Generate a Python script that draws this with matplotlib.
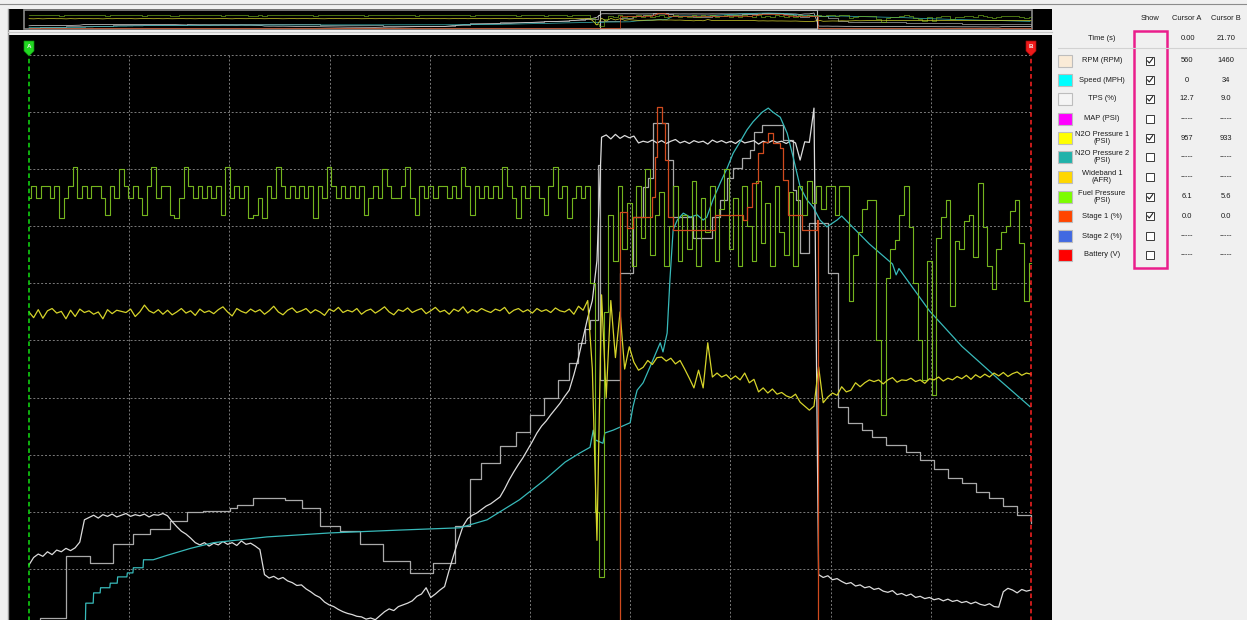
import numpy as np
import matplotlib.pyplot as plt
from matplotlib.patches import Rectangle, Polygon

W, H = 1247, 620
DT = 0.1
T_A, T_B = 0.0, 21.70

# all traces are in % of the graph height (10 % per grid row), time in s

# evenly logged channels, one value every 0.1 s from cursor A
fuel_psi = [
    75, 77, 75, 77, 77, 75, 77, 71.5, 75, 77,
    80.4, 75, 77, 75, 77, 77, 75, 72, 77, 75,
    80, 77, 75, 77, 75, 72, 77, 80.4, 75, 77,
    77, 72, 71.5, 75, 80.4, 77, 75, 77, 75, 77,
    75, 77, 72, 80.4, 75, 77, 75, 77, 71.5, 72,
    75, 71.5, 77, 75, 80.4, 77, 75, 77, 75, 77,
    75, 77, 71.5, 77, 75, 80.4, 77, 75, 77, 75,
    77, 75, 77, 72, 75, 77, 75, 80, 77, 75,
    75, 77, 80.4, 75, 72, 77, 75, 77, 75, 77,
    77, 75, 77, 75, 80.4, 77, 72, 77, 75, 77,
    75, 77, 75, 80.4, 77, 75, 71.5, 77, 75, 77,
    77, 75, 72, 77, 80.4, 75, 77, 71.5, 75, 77,
    75, 77, 60, 20, 8.6, 55, 72, 64, 77, 66,
    74, 63, 77, 68, 80, 65, 72, 76, 63, 70,
    77, 64, 72, 66, 78, 63, 75, 69, 77, 64,
    73, 80, 66, 75, 63, 77, 70, 64, 78, 67,
    74, 63, 77, 69, 65, 76, 63, 77, 72, 78,
    74, 77, 73, 77, 77, 72, 77, 77, 57, 65,
    69, 73, 74.6, 74.6, 50, 37, 61, 66, 67.6, 72,
    77, 69.8, 60, 50, 43.1, 64, 40.5, 68, 71.6, 74.6,
    56, 67.4, 66, 71, 72, 64.6, 77.6, 69.8, 63, 59,
    66, 69, 70, 72.6, 74.6, 67.1, 57, 63.6,
]

n2o_psi = [
    55.0, 54.0, 55.4, 53.9, 55.2, 55.6, 54.8, 55.1, 53.8, 55.3,
    54.2, 55.5, 54.9, 55.2, 54.6, 55.0, 53.8, 55.4, 54.7, 55.3,
    55.1, 54.9, 55.5, 54.2, 55.0, 56.2, 55.2, 54.8, 55.4, 54.6,
    55.3, 54.5, 55.0, 55.6, 54.8, 55.2, 54.4, 55.5, 54.9, 55.2,
    54.7, 55.4, 55.9, 55.0, 54.3, 55.6, 55.1, 54.8, 55.5, 55.0,
    55.4, 54.6, 55.2, 56.0, 55.0, 54.5, 55.3, 55.7, 54.9, 55.2,
    55.6, 54.8, 55.4, 55.0, 54.4, 55.5, 55.1, 55.8, 54.9, 55.3,
    55.0, 55.6, 54.6, 55.2, 55.5, 54.8, 55.3, 55.9, 55.0, 54.5,
    55.4, 55.1, 55.7, 54.9, 55.3, 55.6, 54.7, 55.2, 55.8, 55.0,
    55.3, 54.6, 55.5, 55.1, 55.9, 54.8, 55.4, 55.0, 55.6, 55.2,
    54.9, 55.5, 55.2, 55.8, 54.7, 55.3, 55.6, 55.0, 55.4, 54.8,
    55.6, 55.1, 55.4, 54.9, 55.7, 55.2, 55.0, 55.5, 54.6, 56.0,
    55.3, 57.0, 45.0, 15.0, 58.0, 40.0, 57.0, 47.0, 55.0, 45.0,
    48.9, 46.2, 44.8, 45.3, 46.5, 45.8, 47.0, 47.1, 46.4, 46.9,
    45.9, 46.5, 45.0, 43.4, 41.7, 44.8, 41.7, 49.6, 43.6, 44.3,
    43.6, 44.0, 43.2, 43.8, 43.1, 44.3, 42.6, 43.2, 41.0, 41.7,
    40.8, 41.5, 40.6, 40.9, 40.3, 40.0, 40.6, 39.2, 38.5, 37.8,
    38.5, 45.4, 39.1, 40.1, 40.8, 40.4, 41.9, 41.0, 41.3, 42.6,
    41.9, 42.6, 43.1, 42.8, 43.1, 42.4, 43.1, 43.5, 42.7, 43.1,
    43.0, 43.4, 42.8, 43.1, 42.5, 43.3, 43.1, 43.6, 42.9, 43.4,
    43.1, 43.7, 43.3, 43.9, 43.2, 44.0, 43.5, 44.1, 43.6, 44.3,
    43.8, 44.4, 43.7, 44.2, 44.5, 43.9, 44.3, 44.1,
]

tps_pct = [
    10.7, 12.0, 12.6, 12.2, 13.0, 12.5, 13.3, 13.0, 13.6, 13.2,
    13.7, 14.7, 18.6, 19.0, 19.4, 18.9, 19.5, 19.2, 19.6, 19.1,
    19.4, 19.7, 19.2, 19.5, 19.3, 19.6, 19.1, 19.5, 19.4, 19.7,
    19.3, 18.3, 17.4, 16.6, 16.1, 15.4, 14.6, 14.2, 14.6, 14.0,
    14.5, 14.2, 14.8, 14.3, 14.6, 14.1, 14.9, 14.3, 14.5, 14.0,
    13.4, 9.0, 8.4, 8.7, 8.2, 8.5, 7.9, 7.6, 7.1, 7.2,
    6.5, 6.0, 5.4, 5.0, 4.2, 3.7, 3.4, 2.9, 2.5, 2.2,
    2.0, 1.7, 1.6, 1.2, 1.4, 1.1, 1.8, 2.5, 3.0, 2.7,
    3.4, 3.7, 4.0, 4.4, 5.2, 5.6, 6.7, 5.0, 5.6, 6.3,
    6.9, 9.8, 12.5, 15.1, 17.5, 18.8, 19.4, 19.8, 20.4, 21.0,
    21.4, 22.0, 22.6, 24.0, 25.6, 27.0, 28.3, 29.5, 30.9, 32.3,
    33.8, 35.0, 35.9, 37.0, 38.0, 39.0, 40.2, 41.3, 44.0, 47.0,
    50.5, 54.0, 57.0, 64.0, 85.6, 86.0, 85.3, 86.1, 85.4, 85.9,
    85.5, 85.8, 84.6, 84.9, 84.7, 85.1, 84.6, 85.0, 84.5, 84.9,
    85.2, 84.6, 84.9, 84.5, 85.0, 84.7, 84.9, 84.4, 85.1, 84.7,
    85.0, 84.6, 84.9, 84.5, 85.1, 84.6, 84.8, 85.0, 84.4, 84.9,
    84.6, 85.0, 84.7, 84.9, 84.5, 85.0, 84.6, 81.6, 84.8, 84.7,
    90.7, 9.0, 8.5, 8.8, 8.1, 8.3, 7.8, 7.4, 7.6, 7.0,
    7.2, 6.7, 6.9, 6.4, 6.6, 6.1, 5.9, 6.2, 5.5, 5.7,
    5.3, 5.6, 5.0, 5.2, 4.8, 5.0, 4.6, 4.8, 4.4, 4.7,
    4.3, 4.5, 4.1, 4.3, 3.9, 4.2, 3.8, 3.6, 3.9, 3.4,
    3.3, 6.0, 6.6, 6.3, 5.8, 6.4, 6.1, 6.3,
]

# channels logged on change: (time, value) pairs
rpm_t = [0.0, 0.24, 0.80, 1.32, 1.82, 2.25, 2.62, 3.05, 3.42, 3.77, 4.35, 4.50,
         4.85, 5.54, 5.91, 6.30, 6.73, 7.16, 7.66, 8.25, 8.74, 9.22, 9.55, 9.78,
         10.19, 10.55, 10.84, 11.15, 11.45, 11.70, 11.90, 12.05, 12.14, 12.33,
         12.36, 12.80, 13.08, 13.29, 13.40, 13.51, 13.83, 13.94, 14.37, 14.80,
         14.96, 15.11, 15.24, 15.45, 15.61, 15.71, 15.87, 16.32, 16.54, 16.62,
         16.69, 16.90, 17.30, 17.52, 17.73, 18.03, 18.25, 18.57, 19.00, 19.30,
         19.60, 19.90, 20.20, 20.50, 20.80, 21.10, 21.40, 21.70]
rpm_v = [0, 1.4, 12.3, 11.0, 14.4, 16.1, 17.0, 18.4, 20.0, 20.1, 20.7, 21.2,
         22.4, 22.1, 20.7, 17.5, 16.6, 14.4, 11.4, 9.3, 11.0, 17.5, 25.7, 28.5,
         31.5, 34.0, 37.0, 40.0, 43.0, 46.0, 49.5, 52.0, 53.6, 80.7,
         43.1, 61.8, 71.6, 76.8, 78.5, 88.1, 81.6, 71.6, 67.9, 71.6,
         74.6, 78.5, 80.2, 81.9, 83.4, 86.5, 87.7, 85.1, 76.4, 74.6,
         65.3, 70.6, 61.8, 38.4, 35.6, 34.3, 33.1, 31.7, 30.5, 29.0,
         27.5, 26.0, 25.0, 23.5, 22.4, 21.0, 19.4, 18.0]

speed_t = [0.0, 1.22, 1.23, 1.39, 1.40, 1.54, 1.55, 1.75, 1.76, 1.91, 1.92, 2.12,
           2.13, 2.25, 2.26, 2.47, 2.48, 2.69, 3.0, 3.5, 4.0, 4.35, 5.15, 6.52,
           8.03, 9.33, 9.92, 10.20, 10.62, 11.17, 11.61, 11.93, 12.15, 12.22,
           12.26, 12.43, 12.47, 12.65, 13.02, 13.08, 13.17, 13.30, 13.45, 13.67,
           13.73, 13.82, 13.88, 13.95, 14.04, 14.17, 14.32, 14.47, 14.60, 14.68,
           14.81, 14.97, 15.12, 15.25, 15.40, 15.55, 15.68, 15.88, 16.01, 16.11,
           16.27, 16.42, 16.55, 16.70, 16.85, 16.98, 17.13, 17.28, 17.50, 17.60,
           18.20, 18.70, 18.78, 18.84, 19.50, 20.20, 21.00, 21.68]
speed_v = [0, 0, 4.0, 4.0, 5.8, 5.8, 6.7, 6.7, 7.5, 7.5, 8.6, 8.6,
           9.3, 9.3, 10.2, 10.2, 11.6, 11.6, 12.4, 13.6, 14.6, 14.9, 15.6, 16.3,
           16.8, 17.2, 18.6, 20.0, 22.1, 25.6, 28.7, 30.3, 31.3, 34.3,
           32.6, 32.0, 33.8, 34.3, 35.6, 38.4, 41.3, 42.6, 45.4, 49.6,
           48.0, 51.3, 60.6, 69.4, 71.1, 72.3, 71.6, 72.0, 71.1, 71.6,
           74.6, 77.6, 80.2, 82.8, 84.8, 86.9, 88.3, 90.0, 90.7, 90.0,
           89.1, 86.3, 82.1, 76.9, 74.6, 73.4, 71.1, 69.9, 71.1, 71.8,
           66.9, 63.4, 61.5, 62.6, 55.2, 49.0, 43.2, 38.4]

stage1_t = [0.0, 12.80, 12.95, 13.08, 13.49, 13.56, 13.60, 13.71, 13.78, 13.84,
            13.95, 14.86, 15.46, 15.55, 15.66, 15.79, 15.90, 16.01, 16.11, 16.27,
            16.33, 16.44, 16.74, 17.07, 17.09, 21.70]
stage1_v = [0, 72.5, 69.7, 71.6, 75.1, 82.1, 90.9, 88.1, 81.6, 71.6,
            69.4, 72.0, 71.1, 73.4, 77.6, 82.8, 84.8, 86.3, 84.6, 83.7,
            78.1, 72.0, 69.4, 71.1, 0, 0]

# side table
channels = ['RPM (RPM)', 'Speed (MPH)', 'TPS (%)', 'MAP (PSI)', 'N2O Pressure 1\n(PSI)',
            'N2O Pressure 2\n(PSI)', 'Wideband 1\n(AFR)', 'Fuel Pressure\n(PSI)',
            'Stage 1 (%)', 'Stage 2 (%)', 'Battery (V)']
swatch_colors = ['#faebd7', '#00ffff', '#f5f5f5', '#ff00ff', '#ffff00', '#20b2aa',
                 '#ffd700', '#7cfc00', '#ff4500', '#4169e1', '#ff0000']
shown = [True, True, True, False, True, False, False, True, True, False, False]
cursor_a = ['560', '0', '12.7', '-----', '957', '-----', '-----', '6.1', '0.0', '-----', '-----']
cursor_b = ['1460', '34', '9.0', '-----', '933', '-----', '-----', '5.6', '0.0', '-----', '-----']


def px_to_t(px):
    return (px - 29) * T_B / 1002


def py_to_y(py):
    return (626 - py) / 5.71


def draw_traces(ax, lw):
    t_fuel = np.arange(len(fuel_psi)) * DT
    t_n2o = np.arange(len(n2o_psi)) * DT
    t_tps = np.arange(len(tps_pct)) * DT
    ax.plot(rpm_t, rpm_v, drawstyle='steps-post', color='#a9a9a9', lw=lw)
    ax.plot(t_tps, tps_pct, color='#dcdcdc', lw=lw)
    ax.plot(speed_t, speed_v, color='#38baba', lw=lw)
    ax.plot(t_fuel, fuel_psi, drawstyle='steps-mid', color='#74b41e', lw=lw * 0.9)
    ax.plot(t_n2o, n2o_psi, color='#d6d42a', lw=lw)
    ax.plot(stage1_t, stage1_v, drawstyle='steps-post', color='#d04a1e', lw=lw)


plt.rcParams['font.family'] = ['Liberation Sans', 'DejaVu Sans']
fig = plt.figure(figsize=(W / 100, H / 100), dpi=100, facecolor='#f0f0f0')

# main graph
ax = fig.add_axes([8 / W, 0, 1044 / W, 585 / H], facecolor='black')
ax.set_xlim(px_to_t(8), px_to_t(1052))
ax.set_ylim(py_to_y(620), py_to_y(35))
ax.set_xticks([])
ax.set_yticks([])
for s in ax.spines.values():
    s.set_visible(False)

grid_kw = dict(color='#7a7a7a', lw=0.7, linestyles=(0, (2, 2)))
ax.hlines(np.arange(10, 101, 10), T_A, T_B, **grid_kw)
ax.vlines(np.arange(1, 10) * (T_B - T_A) / 10, 0, 100, **grid_kw)

draw_traces(ax, 0.9)

ax.plot([T_A, T_A], [0, 99.8], color='#12e012', lw=1.1, ls=(0, (3, 2)))
ax.plot([T_B, T_B], [0, 99.8], color='#ff2222', lw=1.1, ls=(0, (3, 2)))

# overview strip
ov = fig.add_axes([8 / W, 1 - 30 / H, 1044 / W, 21 / H], facecolor='black')
ov.set_xlim(px_to_t(8), px_to_t(1052))
ov.set_ylim(-15.6, 115.6)
ov.set_xticks([])
ov.set_yticks([])
for s in ov.spines.values():
    s.set_visible(False)
draw_traces(ov, 0.5)
ov.add_patch(Rectangle((px_to_t(24), -9.4), px_to_t(1032) - px_to_t(24), 118.8,
                       fill=False, ec='#8a8a8a', lw=1.2))
ov.add_patch(Rectangle((px_to_t(600), -9.4), px_to_t(817) - px_to_t(600), 118.8,
                       fill=False, ec='#b8b8b8', lw=0.8))

# pixel overlay for window chrome and the side table
pix = fig.add_axes([0, 0, 1, 1], zorder=10)
pix.set_xlim(0, W)
pix.set_ylim(H, 0)
pix.axis('off')

pix.plot([0, W], [3.5, 3.5], color='#8c8c8c', lw=0.8)
pix.plot([7.5, 7.5], [9, H], color='#9a9a9a', lw=1.0)
pix.plot([8, 1052], [32, 32], color='#c8c8c8', lw=0.8)

for cx, fc, ec, letter in [(29, '#22d822', '#0c8a0c', 'A'), (1031, '#ee1a1a', '#9a0a0a', 'B')]:
    pix.add_patch(Polygon([(cx - 5, 41), (cx + 5, 41), (cx + 5, 51), (cx, 56), (cx - 5, 51)],
                          closed=True, fc=fc, ec=ec, lw=0.5))
    pix.text(cx, 46.5, letter, fontsize=4.5, ha='center', va='center', color='#f0f0f0',
             fontweight='bold')

txt_kw = dict(fontsize=5.4, color='#1a1a1a', ha='center', va='center')
pix.text(1150, 18, 'Show', **txt_kw)
pix.text(1187, 18, 'Cursor A', **txt_kw)
pix.text(1226, 18, 'Cursor B', **txt_kw)
pix.text(1102, 38, 'Time (s)', **txt_kw)
pix.text(1188, 38, f'{T_A:.2f}', **txt_kw)
pix.text(1226, 38, f'{T_B:.2f}', **txt_kw)
pix.plot([1058, W], [48, 48], color='#d2d2d2', lw=0.8)

row_y = [61, 80, 99, 119, 138, 157, 177, 197, 216, 236, 255]
for cy, name, col, on, va, vb in zip(row_y, channels, swatch_colors, shown, cursor_a, cursor_b):
    pix.add_patch(Rectangle((1058, cy - 6), 14, 12, fc=col, ec='#bdbdbd', lw=0.8))
    pix.text(1102, cy, name, linespacing=0.95, **txt_kw)
    pix.add_patch(Rectangle((1146, cy - 4), 8, 8, fc='white', ec='#3a3a3a', lw=0.7))
    if on:
        pix.plot([1147.6, 1149.3, 1152.6], [cy, cy + 2, cy - 2.4], color='#222222', lw=0.8)
    pix.text(1187, cy, va, **txt_kw)
    pix.text(1226, cy, vb, **txt_kw)

pix.add_patch(Rectangle((1134, 31), 33, 237, fill=False, ec='#ea1e8c', lw=1.8))

fig.savefig('out.png', dpi=100, facecolor=fig.get_facecolor())
